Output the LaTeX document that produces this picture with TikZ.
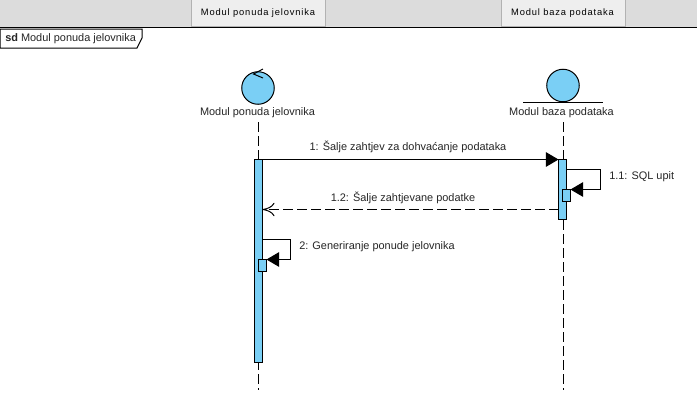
\documentclass[tikz,border=0pt]{standalone}
\usepackage{fontspec}
\setmainfont{Liberation Sans}
\usetikzlibrary{arrows.meta}
\definecolor{actfill}{HTML}{7ACFF5}
\definecolor{tabbar}{HTML}{DCDCDC}
\definecolor{tabface}{HTML}{EEEEEE}
\tikzset{
  x=0.75pt,y=-0.75pt,
  txt/.style={font=\fontsize{8.2pt}{9pt}\selectfont,inner sep=0pt,text=black!85},
  tabtxt/.style={font=\fontsize{7pt}{9pt}\selectfont\addfontfeatures{LetterSpace=9},inner sep=0pt},
  tabbox/.style={draw=black!30,fill=tabface,line width=0.7pt,inner sep=0pt,outer sep=0pt,anchor=north west},
  actbox/.style={draw=black,fill=actfill,line width=0.75pt,inner sep=0pt,outer sep=0pt,anchor=north west,minimum width=6pt},
  lifecircle/.style={circle,draw=black,fill=actfill,line width=0.75pt,inner sep=0pt,outer sep=0pt,minimum size=24.4pt},
  lifeline/.style={draw=black,line width=0.75pt,dash pattern=on 7.5pt off 3pt},
  msg/.style={draw=black,line width=0.75pt},
  sync/.style={msg,-{Triangle[length=9.5pt,width=11pt]}},
  ret/.style={msg,dash pattern=on 7.5pt off 3pt,-{To[length=9pt,width=10pt]}},
}
\begin{document}
\begin{tikzpicture}
\useasboundingbox (0,0) rectangle (697,419);
\fill[white] (0,0) rectangle (697,419);
% tab bar
\fill[tabbar] (0,0) rectangle (697,27);
\draw[black,line width=0.9pt] (0,27.5) -- (697,27.5);
\node[tabbox,minimum width=100.5pt,minimum height=20.5pt] (tabA) at (191,-0.5) {};
\node[tabtxt] (tabAt) at (258,13) {Modul ponuda jelovnika};
\node[tabbox,minimum width=93pt,minimum height=20.5pt] (tabB) at (501,-0.5) {};
\node[tabtxt] (tabBt) at (562.5,13) {Modul baza podataka};
% frame label
\draw[black,fill=white,line width=0.75pt] (0,29) -- (142,29) -- (142,38) -- (137,48) -- (0,48) -- cycle;
\node[txt,anchor=west] (frame) at (5,39) {\textbf{sd} Modul ponuda jelovnika};
% lifelines heads
\node[lifecircle] (ctrl) at (258,88) {};
\draw[msg] (263,69) -- (253.5,74) -- (263,78);
\node[lifecircle] (ent) at (563,85.5) {};
\draw[msg] (523,102.5) -- (603,102.5);
\node[txt] (ctrlL) at (257.5,113) {Modul ponuda jelovnika};
\node[txt] (entL) at (561.5,113) {Modul baza podataka};
\coordinate (endA) at (258,390);
\coordinate (endB) at (563,390);
\coordinate (startA) at (258,122);
\coordinate (startB) at (563,122);
\draw[lifeline] (startA) -- (endA);
\draw[lifeline] (startB) -- (endB);
% activations
\node[actbox,minimum height=152.5pt] (a1) at (254.5,159.5) {};
\node[actbox,minimum height=45pt] (b1) at (558.5,159.5) {};
\node[actbox,minimum height=9pt] (b2) at (562.5,189.5) {};
\node[actbox,minimum height=9pt] (a2) at (258.5,259.5) {};
% messages
\draw[sync] (a1.north east) -- (b1.north west);
\node[txt] (m1) at (408,147) {1: Šalje zahtjev za dohvaćanje podataka};
\draw[msg] (b1.east |- 0,169.5) -| (600.5,189.5) coordinate (c1) ;
\draw[sync] (c1) -- (b2.east |- c1);
\node[txt,anchor=west] (m2) at (609,177) {1.1: SQL upit};
\draw[ret] (b1.west |- 0,209.5) -- (a1.east |- 0,209.5);
\node[txt] (m3) at (403,197.5) {1.2: Šalje zahtjevane podatke};
\draw[msg] (a1.east |- 0,239.5) -| (290.5,259.5) coordinate (c2);
\draw[sync] (c2) -- (a2.east |- c2);
\node[txt,anchor=west] (m4) at (299,247) {2: Generiranje ponude jelovnika};
\end{tikzpicture}
\end{document}
